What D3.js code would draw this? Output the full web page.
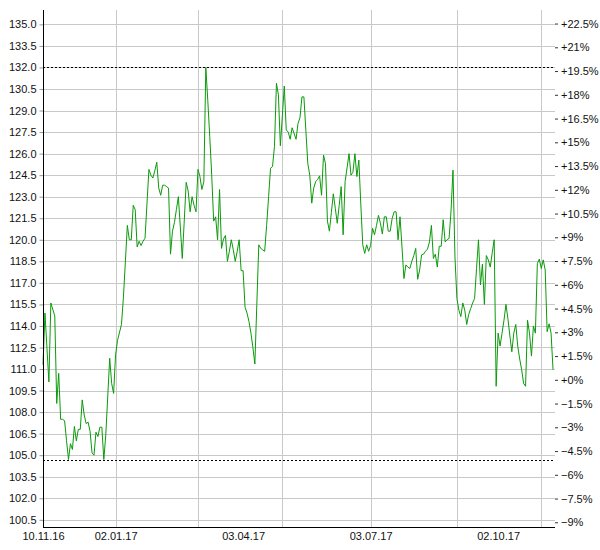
<!DOCTYPE html>
<html>
<head>
<meta charset="utf-8">
<script src="https://cdn.jsdelivr.net/npm/d3@7/dist/d3.min.js"></script>
<style>
  html, body { margin: 0; padding: 0; background: #fff; }
  svg text { font-family: "Liberation Sans", Arial, sans-serif; font-size: 11px; fill: #111; }
</style>
</head>
<body>
<svg id="chart" width="600" height="550"></svg>
<script>
// ---------- data ----------
const startDate = "2016-11-10";
const endDate = "2017-11-10";
// trading-day index (weekdays since start date)
const dayIndex = [0,1,3,4,6,7,8,9,10,11,12,13,14,15,16,17,18,19,20,21,22,23,24,25,26,27,28,29,30,31,32,34,35,36,37,38,40,41,43,44,45,46,47,48,49,50,51,52,54,55,56,57,58,59,60,61,62,63,64,65,66,67,68,69,70,71,72,73,74,75,76,77,78,79,80,81,82,83,84,85,86,87,88,89,90,91,92,93,94,95,96,97,98,99,100,101,102,103,104,105,106,107,108,109,110,111,112,113,114,115,116,117,118,119,120,121,122,123,124,125,126,127,129,130,131,132,133,134,135,136,137,138,139,140,141,142,143,144,145,146,147,148,149,150,151,152,153,154,155,156,157,158,159,160,161,162,163,164,165,166,167,168,169,170,171,172,173,174,175,176,177,178,179,180,181,182,183,184,185,186,187,188,189,190,191,192,193,194,195,196,197,198,199,200,201,202,203,204,205,206,207,208,209,210,211,212,213,214,215,216,217,218,219,220,221,222,223,224,225,226,227,228,229,230,231,232,233,234,235,236,237,238,239,240,241,242,243,244,245,246,247,248,249,250,251,252,253,254,255,256,257,258,259,260];
const prices = [111.3,114.9,110.1,115.6,114.7,108.6,110.7,107.5,107.5,107.4,106.0,104.7,105.8,105.4,107.0,106.0,106.8,106.8,108.85,107.8,107.2,107.3,106.65,105.15,105.0,106.6,106.3,106.95,106.95,104.7,106.4,111.75,110.0,109.3,112.0,113.0,114.1,116.0,121.0,120.0,120.0,122.4,122.1,119.5,119.9,119.6,119.9,120.1,124.9,124.5,124.3,124.8,125.4,123.6,123.1,123.8,123.8,123.7,123.6,119.0,120.6,121.2,122.1,123.0,120.9,118.7,121.3,124.0,123.4,121.95,123.0,122.4,121.95,124.9,124.4,123.5,124.05,132.0,129.7,127.2,124.5,121.3,121.6,120.0,123.5,119.4,120.05,120.3,118.5,119.2,120.0,119.3,118.5,119.2,120.0,117.85,117.85,115.3,114.9,114.3,113.5,112.5,111.35,115.5,119.65,119.4,119.3,119.2,121.0,123.0,124.98,125.1,126.5,130.9,130.1,126.55,128.6,130.7,127.65,127.5,127.0,127.8,127.0,128.1,128.5,129.95,129.95,127.6,125.3,124.5,122.55,123.6,124.05,124.2,124.45,123.1,125.9,125.3,121.3,120.6,121.9,123.2,122.2,121.15,122.4,123.7,120.35,124.05,125.0,126.0,124.5,124.7,126.0,124.4,125.55,122.5,119.65,119.05,119.65,119.2,119.6,120.8,120.35,121.0,121.7,121.15,120.4,121.6,121.6,120.6,120.6,121.5,121.95,121.95,120.0,121.6,119.5,117.3,118.25,118.1,118.0,118.5,118.9,119.4,117.25,117.9,118.95,119.0,119.2,119.35,119.85,121.0,118.7,119.0,118.1,119.55,119.55,121.4,119.85,120.0,120.1,122.0,124.85,118.8,115.9,115.1,114.65,115.6,115.1,114.1,114.8,115.2,115.6,115.9,118.0,120.0,116.85,118.3,115.5,118.9,118.6,118.1,119.1,120.0,109.8,113.5,112.6,113.5,114.4,115.5,114.5,113.3,112.2,113.5,114.1,112.6,111.7,110.95,110.0,109.8,114.4,113.5,111.9,114.0,113.5,118.35,118.65,118.0,118.6,117.9,113.6,114.15,113.5,110.95];
const leftTicks = [100.5,102.0,103.5,105.0,106.5,108.0,109.5,111.0,112.5,114.0,115.5,117.0,118.5,120.0,121.5,123.0,124.5,126.0,127.5,129.0,130.5,132.0,133.5,135.0];
const pctTicks = [-9,-7.5,-6,-4.5,-3,-1.5,0,1.5,3,4.5,6,7.5,9,10.5,12,13.5,15,16.5,18,19.5,21,22.5];
const labelDates = ["2016-11-10","2017-01-02","2017-04-03","2017-07-03","2017-10-02"];
const gridDates = ["2017-01-02","2017-03-01","2017-05-01","2017-07-03","2017-09-01","2017-11-01"];
const yDomain = [100, 136];
const pctBase = 110.25;

// ---------- helpers ----------
const parse = d3.timeParse("%Y-%m-%d");
const fmtDate = d3.timeFormat("%d.%m.%y");
const start = parse(startDate);
function weekdayIndex(s) {
  const d = parse(s);
  return d3.timeDay.range(start, d).filter(t => t.getDay() % 6 !== 0).length;
}

const data = dayIndex.map((i, k) => ({ i, v: prices[k] }));

// ---------- layout ----------
const L = 43, R = 555, T = 10, B = 527;
const svg = d3.select("#chart");

const x = d3.scaleLinear().domain([0, weekdayIndex(endDate)]).range([L, R]);
const y = d3.scaleLinear().domain(yDomain).range([B, T]);
const yp = d3.scaleLinear()
  .domain(yDomain.map(v => (v / pctBase - 1) * 100))
  .range([B, T]);

// horizontal grid
svg.append("g").selectAll("line").data(leftTicks).join("line")
  .attr("x1", L).attr("x2", R)
  .attr("y1", d => Math.round(y(d)) + 0.5).attr("y2", d => Math.round(y(d)) + 0.5)
  .attr("stroke", "#c8c8c8").attr("stroke-width", 1);

// vertical grid
svg.append("g").selectAll("line").data(gridDates).join("line")
  .attr("x1", d => Math.round(x(weekdayIndex(d))) + 0.5)
  .attr("x2", d => Math.round(x(weekdayIndex(d))) + 0.5)
  .attr("y1", T).attr("y2", B)
  .attr("stroke", "#c8c8c8").attr("stroke-width", 1);

// min / max dotted lines
const vmax = d3.max(prices), vmin = d3.min(prices);
svg.append("g").selectAll("line").data([vmax, vmin]).join("line")
  .attr("x1", L).attr("x2", R - 2)
  .attr("y1", d => Math.round(y(d)) + 0.5).attr("y2", d => Math.round(y(d)) + 0.5)
  .attr("stroke", "#000").attr("stroke-width", 1)
  .attr("stroke-dasharray", "2,2");

// price line
svg.append("path").datum(data)
  .attr("fill", "none")
  .attr("stroke", "#0a9a0a")
  .attr("stroke-width", 1)
  .attr("d", d3.line().x(d => x(d.i)).y(d => y(d.v)));

// left axis
const gl = svg.append("g").attr("transform", `translate(${L + 0.5},0)`)
  .call(d3.axisLeft(y).tickValues(leftTicks).tickFormat(d3.format(".1f")).tickSize(4).tickPadding(3));
gl.select(".domain").remove();
gl.selectAll(".tick line").attr("stroke", "#999");
gl.selectAll("text").attr("font-size", 11).attr("font-family", "Liberation Sans, Arial, sans-serif").attr("fill", "#111");
svg.append("line").attr("x1", L + 0.5).attr("x2", L + 0.5).attr("y1", T).attr("y2", B + 0.5)
  .attr("stroke", "#000");

// right axis (percent)
const gr = svg.append("g").attr("transform", `translate(${R},0)`)
  .call(d3.axisRight(yp).tickValues(pctTicks)
    .tickFormat(d => (d >= 0 ? "+" : "") + d3.format("~")(d) + "%").tickSize(3).tickPadding(3));
gr.select(".domain").remove();
gr.selectAll(".tick line").attr("stroke", "#333");
gr.selectAll("text").attr("font-size", 10.5).attr("font-family", "Liberation Sans, Arial, sans-serif").attr("fill", "#111");

// bottom axis
svg.append("line").attr("x1", L).attr("x2", R).attr("y1", B + 0.5).attr("y2", B + 0.5).attr("stroke", "#000");
const gb = svg.append("g").attr("transform", `translate(0,${B})`)
  .call(d3.axisBottom(x).tickValues(labelDates.map(weekdayIndex))
    .tickFormat((d, k) => fmtDate(parse(labelDates[k]))).tickSize(0).tickPadding(5));
gb.select(".domain").remove();
gb.selectAll("text").attr("font-size", 11).attr("font-family", "Liberation Sans, Arial, sans-serif").attr("fill", "#111");
</script>
</body>
</html>
